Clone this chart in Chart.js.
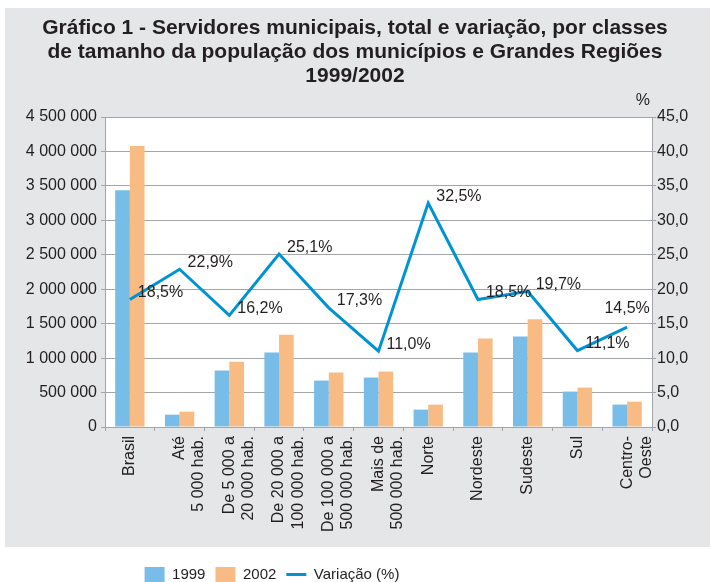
<!DOCTYPE html>
<html>
<head>
<meta charset="utf-8">
<script src="https://cdn.jsdelivr.net/npm/chart.js@4/dist/chart.umd.min.js"></script>
<style>
  body { margin: 0; background: #fff; }
  #wrap { width: 710px; height: 582px; }
</style>
</head>
<body>
<div id="wrap"><canvas id="chart" width="710" height="582"></canvas></div>
<script>
// Data
const categories = [
    'Brasil',
    ['Até', '5 000 hab.'],
    ['De 5 000 a', '20 000 hab.'],
    ['De 20 000 a', '100 000 hab.'],
    ['De 100 000 a', '500 000 hab.'],
    ['Mais de', '500 000 hab.'],
    'Norte',
    'Nordeste',
    'Sudeste',
    'Sul',
    ['Centro-', 'Oeste']
];
const servidores1999 = [3437000, 179000, 820000, 1082000, 674000, 718000, 252000, 1082000, 1315000, 514000, 325000];
const servidores2002 = [4078000, 223000, 947000, 1340000, 791000, 805000, 325000, 1286000, 1563000, 572000, 368000];
const variacao = [18.5, 22.9, 16.2, 25.1, 17.3, 11.0, 32.5, 18.5, 19.7, 11.1, 14.5];

const titleLines = [
    'Gráfico 1 - Servidores municipais, total e variação, por classes',
    'de tamanho da população dos municípios e Grandes Regiões',
    '1999/2002'
];

const TEXT = '#231f20';
const GRID = '#a3a5a8';
const PANEL = '#e5e6e7';

Chart.defaults.font.family = "'Liberation Sans', Arial, sans-serif";
Chart.defaults.color = TEXT;

// gray panel + white plot area
const backgroundPlugin = {
    id: 'panelBg',
    beforeDraw(chart) {
        const { ctx, chartArea } = chart;
        ctx.save();
        ctx.fillStyle = '#ffffff';
        ctx.fillRect(0, 0, chart.width, chart.height);
        ctx.fillStyle = PANEL;
        ctx.fillRect(5, 8, chart.width - 5, 539);
        ctx.fillStyle = '#ffffff';
        ctx.fillRect(chartArea.left, chartArea.top, chartArea.right - chartArea.left, chartArea.bottom - chartArea.top);
        ctx.restore();
    }
};

// value labels next to the line points, plus the "%" unit
const labelPlugin = {
    id: 'lineLabels',
    afterDatasetsDraw(chart) {
        const { ctx, chartArea } = chart;
        const meta = chart.getDatasetMeta(2);
        ctx.save();
        ctx.font = "16px 'Liberation Sans', Arial, sans-serif";
        ctx.fillStyle = TEXT;
        ctx.textBaseline = 'middle';
        meta.data.forEach((pt, i) => {
            const txt = variacao[i].toFixed(1).replace('.', ',') + '%';
            if (i === meta.data.length - 1) {
                ctx.textAlign = 'center';
                ctx.fillText(txt, pt.x, pt.y - 19);
            } else {
                ctx.textAlign = 'left';
                ctx.fillText(txt, pt.x + 8, pt.y - 7);
            }
        });
        ctx.textAlign = 'right';
        ctx.fillText('%', chartArea.right - 2, chartArea.top - 16);
        ctx.restore();
    }
};

// legend sits left of centre, low in the white strip
const legendShift = {
    id: 'legendShift',
    afterLayout(chart) {
        const lg = chart.legend;
        const dx = 272 - (lg.left + lg.right) / 2;
        lg.left += dx;
        lg.right += dx;
        lg.top += 10;
        lg.bottom += 10;
    }
};

new Chart(document.getElementById('chart'), {
    type: 'bar',
    data: {
        labels: categories,
        datasets: [
            {
                label: '1999',
                data: servidores1999,
                backgroundColor: '#77bde8',
                yAxisID: 'y',
                order: 1
            },
            {
                label: '2002',
                data: servidores2002,
                backgroundColor: '#f9bb84',
                yAxisID: 'y',
                order: 1
            },
            {
                type: 'line',
                label: 'Variação (%)',
                data: variacao,
                borderColor: '#0093d3',
                backgroundColor: '#0093d3',
                borderWidth: 3,
                pointRadius: 0,
                tension: 0,
                fill: false,
                yAxisID: 'y1',
                order: 0
            }
        ]
    },
    options: {
        responsive: false,
        animation: false,
        layout: { padding: 0 },
        datasets: {
            bar: { categoryPercentage: 0.59, barPercentage: 1 }
        },
        plugins: {
            title: {
                display: true,
                text: titleLines,
                color: TEXT,
                font: { size: 21, weight: 'bold', lineHeight: 1.143 },
                padding: { top: 16, bottom: 29 }
            },
            legend: {
                position: 'bottom',
                labels: {
                    color: TEXT,
                    font: { size: 15 },
                    usePointStyle: true,
                    pointStyleWidth: 20,
                    boxHeight: 15,
                    padding: 10,
                    generateLabels(chart) {
                        return chart.data.datasets.map((ds, i) => ({
                            text: ds.label,
                            datasetIndex: i,
                            fillStyle: ds.backgroundColor,
                            strokeStyle: ds.borderColor || ds.backgroundColor,
                            lineWidth: ds.type === 'line' ? 3 : 0,
                            pointStyle: ds.type === 'line' ? 'line' : 'rect',
                            fontColor: TEXT,
                            hidden: false
                        }));
                    }
                }
            },
            tooltip: { enabled: false }
        },
        scales: {
            x: {
                grid: { drawOnChartArea: false, color: GRID, tickLength: 4 },
                border: { color: GRID },
                ticks: {
                    minRotation: 90,
                    maxRotation: 90,
                    padding: 5,
                    font: { size: 16 },
                    color: TEXT
                },
                afterFit(scale) { scale.height = 120; }
            },
            y: {
                position: 'left',
                min: 0,
                max: 4500000,
                grid: { color: GRID, tickLength: 4 },
                border: { color: GRID },
                ticks: {
                    stepSize: 500000,
                    padding: 4,
                    font: { size: 16 },
                    color: TEXT,
                    callback: v => String(v).replace(/\B(?=(\d{3})+(?!\d))/g, ' ')
                },
                afterFit(scale) { scale.width = 105; }
            },
            y1: {
                position: 'right',
                min: 0,
                max: 45,
                grid: { drawOnChartArea: false, color: GRID, tickLength: 4 },
                border: { color: GRID },
                ticks: {
                    stepSize: 5,
                    padding: 1,
                    font: { size: 16 },
                    color: TEXT,
                    callback: v => v.toFixed(1).replace('.', ',')
                },
                afterFit(scale) { scale.width = 58; }
            }
        }
    },
    plugins: [backgroundPlugin, labelPlugin, legendShift]
});
</script>
</body>
</html>
